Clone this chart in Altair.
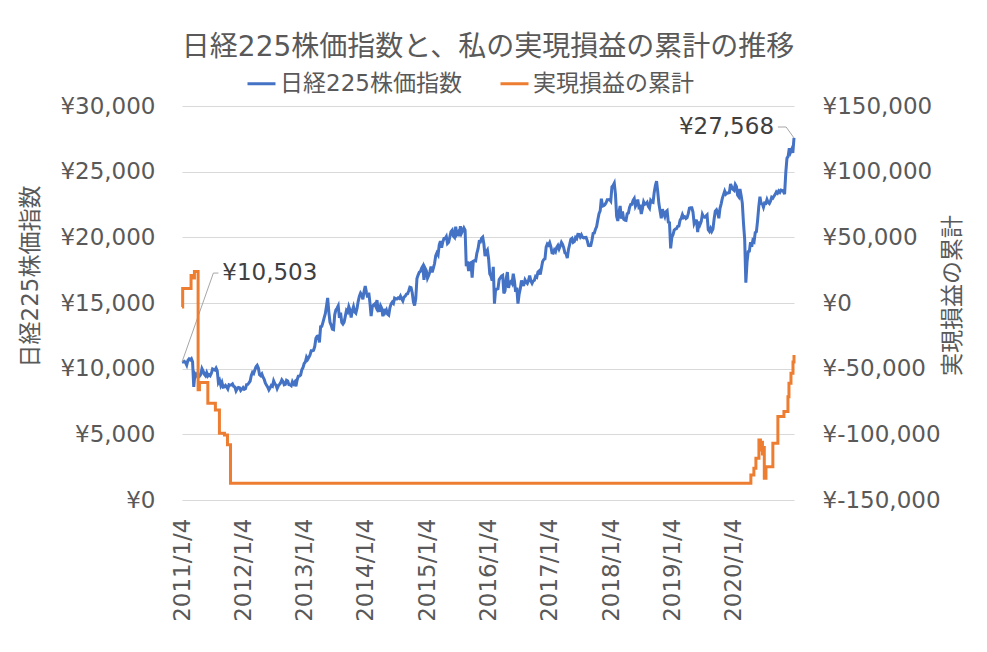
import altair as alt
import pandas as pd

S1 = "日経225株価指数"
S2 = "実現損益の累計"
TITLE = "日経225株価指数と、私の実現損益の累計の推移"

# Weekly readings of the Nikkei 225 (yen), per year
nikkei_2011 = [10503, 10510, 10560, 10460, 10274, 10635, 10746, 10665, 10754, 10525, 8605, 9608, 9459,
               9616, 9555, 9441, 9558, 10004, 9818, 9567, 9460, 9694, 9442, 9547, 9459, 9648,
               9973, 9925, 9889, 10047, 9844, 8944, 9107, 8733, 8954, 8589, 8616, 8722, 8610,
               8456, 8773, 8742, 8762, 8835, 8655, 8603, 8314, 8477, 8575, 8552, 8336, 8440]
nikkei_2012 = [8560, 8422, 8466, 8785, 8803, 8917, 9052, 9485, 9723, 9637, 9899, 10141, 10255,
               10050, 9538, 9464, 9590, 9350, 9181, 8900, 8729, 8594, 8383, 8536, 8721, 8663,
               9066, 8857, 8755, 8489, 8695, 8803, 8929, 9156, 9033, 8776, 8807, 9123, 9069,
               8786, 8769, 8701, 9010, 8841, 8975, 8661, 9142, 9423, 9432, 9525, 9923, 10080]
nikkei_2013 = [10395, 10508, 10880, 10710, 10866, 11046, 11369, 11372, 11399, 11683, 12314, 12468, 12493,
               12003, 13193, 13221, 13529, 13860, 14180, 14758, 15381, 14311, 13534, 13318, 13008, 12970,
               14099, 14473, 14600, 14778, 13870, 14258, 13519, 13396, 13542, 13978, 14424, 14311, 14734,
               14484, 13895, 14405, 14713, 14325, 14225, 14589, 15127, 15515, 15749, 15611, 15279, 15889, 16291]
nikkei_2014 = [15814, 15422, 15796, 15006, 14008, 14718, 14843, 14924, 14721, 15224, 14411, 14423,
               14791, 14607, 13996, 14546, 14288, 14458, 14149, 14075, 14636, 14935, 15069, 14975, 15376,
               15326, 15314, 15395, 15343, 15529, 15320, 15159, 15449, 15521, 15668, 15705, 15911, 16205, 16173,
               15783, 15073, 14804, 15329, 16862, 17124, 17344, 17407, 17663, 17813, 16755, 17635, 17450]
nikkei_2015 = [16883, 17087, 17366, 17768, 17335, 17652, 18004, 18603, 18815, 18665, 19437, 19714, 19206,
               19640, 19908, 19909, 20058, 19531, 19625, 20026, 20437, 20543, 20096, 19990, 20809, 20236,
               20376, 20090, 20841, 20328, 20520, 20720, 20554, 17806, 18165, 17427, 18026, 18070, 16930,
               18186, 18234, 18207, 18777, 19116, 19671, 19650, 19925, 20012, 19492, 18565, 18887, 19034]
nikkei_2016 = [18374, 17219, 17048, 16709, 17750, 14952, 16054, 16052, 16085, 16784, 16922, 17048, 17104,
               15733, 15928, 16874, 17353, 16147, 16565, 16652, 16499, 17235, 16676, 15859, 16170, 14952,
               15669, 16095, 16724, 16383, 16391, 16764, 16596, 16497, 16725, 17081, 16672, 16492, 16683,
               16735, 17024, 16963, 17365, 17442, 17171, 17668, 18162, 18307, 18360, 19250, 19494, 19403]
nikkei_2017 = [19594, 19301, 18813, 18787, 19041, 18910, 19238, 19381, 19119, 19344, 19609, 19455, 19202,
               18810, 18747, 18418, 19079, 19445, 19843, 19919, 19613, 19677, 19980, 19898, 20230, 20225,
               20032, 20195, 19999, 19955, 19985, 19996, 19753, 19383, 19362, 19385, 19776, 20299, 20330,
               20614, 20823, 21336, 21805, 22011, 22937, 22380, 22416, 22486, 22622, 22866, 22868, 22892]
nikkei_2018 = [22765, 23850, 23951, 24124, 23291, 21610, 21245, 21925, 22389, 21418, 21968, 21380, 21318,
               21292, 21794, 21847, 22278, 22508, 22509, 22818, 22960, 22358, 22539, 22878, 22278, 22342,
               21785, 22196, 22697, 22510, 22553, 22662, 22356, 22219, 22813, 22696, 22664, 23420, 23940,
               24270, 23469, 22549, 22010, 21457, 22147, 21810, 21583, 21952, 22036, 21148, 21115, 19155]
nikkei_2019 = [20015, 20204, 20555, 20622, 20664, 20844, 20864, 21302, 21449, 21726, 21504, 21566, 21428,
               21505, 21802, 22221, 22259, 22258, 21923, 21067, 21272, 21260, 20408, 21204, 20972, 21193,
               21754, 21565, 21535, 21620, 21709, 20585, 20455, 20677, 20456, 20625, 21392, 22001, 22098,
               21885, 21456, 22207, 22548, 22974, 23251, 23520, 23292, 23373, 23379, 23410, 24066, 23830, 23656]
nikkei_2020 = [23575, 24025, 23864, 23216, 23084, 23685, 23194, 22606, 21082, 19867, 16552, 18092, 18917,
               18950, 19638, 19280, 19771, 19674, 20366, 20433, 21271, 22325, 23091, 22582, 22549, 22288,
               22614, 22587, 22884, 22657, 22573, 22750, 23051, 22985, 23139, 23274, 23455, 23360, 23539,
               23433, 23601, 23567, 23485, 23295, 24905, 26015, 26165, 26787, 26467, 26687, 26436, 27568]

# Cumulative realised profit/loss (yen), change points
pnl_dates = ["2011-01-04", "2011-01-08", "2011-02-27", "2011-03-11", "2011-03-19", "2011-04-10",
             "2011-04-18", "2011-06-07", "2011-07-22", "2011-08-15", "2011-09-14", "2011-10-02",
             "2011-10-20", "2020-04-16", "2020-05-04", "2020-05-16", "2020-06-03", "2020-06-12",
             "2020-06-18", "2020-06-24", "2020-06-30", "2020-07-05", "2020-07-15", "2020-08-25",
             "2020-09-24", "2020-10-30", "2020-11-23", "2020-11-29", "2020-12-11", "2020-12-23",
             "2020-12-29"]
pnl_values = [-3000, 11000, 21000, 19000, 24000, -66000,
              -60600, -76400, -81400, -99200, -100500, -108000,
              -137200, -130900, -125800, -118200, -104300, -112000,
              -106000, -115000, -110000, -133400, -124600, -106800,
              -86500, -82700, -71300, -61100, -53500, -45000,
              -39600]

FONT = "DejaVu Sans, Noto Sans CJK JP, sans-serif"
GRAY = "#595959"
BLUE = "#4472C4"
ORANGE = "#ED7D31"

nk_values = (nikkei_2011 + nikkei_2012 + nikkei_2013 + nikkei_2014 + nikkei_2015 +
             nikkei_2016 + nikkei_2017 + nikkei_2018 + nikkei_2019 + nikkei_2020)
nk_dates = pd.date_range("2011-01-04", "2020-12-29", periods=len(nk_values))
nk = pd.DataFrame({"date": nk_dates, "value": nk_values, "series": S1})
pl = pd.DataFrame({"date": pd.to_datetime(pnl_dates), "value": pnl_values, "series": S2})

first_lbl = pd.DataFrame({"date": [pd.Timestamp("2011-09-01")], "value": [17280],
                          "label": [f"¥{nk_values[0]:,}"]})
last_lbl = pd.DataFrame({"date": [pd.Timestamp("2020-09-01")], "value": [28400],
                         "label": [f"¥{nk_values[-1]:,}"]})
leaders = pd.DataFrame({
    "date": pd.to_datetime([nk_dates[0], "2011-07-10", "2011-08-09",
                            "2020-09-24", "2020-11-12", nk_dates[-1]]),
    "value": [nk_values[0], 17280, 17280, 28400, 28400, nk_values[-1]],
    "grp": ["a", "a", "a", "b", "b", "b"],
})

color = alt.Color(
    "series:N",
    scale=alt.Scale(domain=[S1, S2], range=[BLUE, ORANGE]),
    legend=alt.Legend(title=None, orient="none", legendX=64, legendY=-38,
                      direction="horizontal", symbolType="stroke", symbolSize=784,
                      symbolStrokeWidth=3, labelFontSize=23, labelFont=FONT,
                      labelColor=GRAY, columnPadding=32, labelOffset=3, labelLimit=0),
)

x_axis = alt.Axis(title=None,
                  values=[alt.DateTime(year=y, month=1, date=4) for y in range(2011, 2021)],
                  format="%Y/%-m/%-d", labelAngle=-90, ticks=False, domain=False,
                  grid=False, labelPadding=18, labelFontSize=23, labelFlush=False,
                  labelOverlap=False)
x_scale = alt.Scale(domain=[alt.DateTime(year=2011, month=1, date=4),
                            alt.DateTime(year=2020, month=12, date=29)])
x_enc = alt.X("date:T", scale=x_scale, axis=x_axis)

left_axis = alt.Axis(title=S1, values=list(range(0, 30001, 5000)),
                     labelExpr="'¥' + format(datum.value, ',')",
                     grid=True, gridColor="#D9D9D9", ticks=False, domain=False,
                     labelPadding=27, labelFontSize=23, titleFontSize=23,
                     titleAngle=-90, titleX=-152, titleY=170, titleAlign="center",
                     titleBaseline="middle")
left_scale = alt.Scale(domain=[0, 30000], nice=False)
y_left = alt.Y("value:Q", scale=left_scale, axis=left_axis)

y_right = alt.Y(
    "value:Q",
    scale=alt.Scale(domain=[-150000, 150000], nice=False),
    axis=alt.Axis(title=S2, orient="right", values=list(range(-150000, 150001, 50000)),
                  labelExpr="'¥' + replace(format(datum.value, ','), '\u2212', '-')",
                  grid=False, ticks=False, domain=False, labelPadding=28,
                  labelFontSize=23, titleFontSize=23, titleAngle=-90, titleX=158,
                  titleY=189, titleAlign="center", titleBaseline="middle"),
)

nk_line = alt.Chart(nk).mark_line(strokeWidth=3).encode(x=x_enc, y=y_left, color=color)
leader_lines = alt.Chart(leaders).mark_line(color="#A6A6A6", strokeWidth=1).encode(
    x=x_enc, y=y_left, detail="grp:N")
txt1 = alt.Chart(first_lbl).mark_text(align="left", baseline="middle", fontSize=23,
                                      font=FONT, color="#404040").encode(
    x=x_enc, y=y_left, text="label:N")
txt2 = alt.Chart(last_lbl).mark_text(align="right", baseline="middle", fontSize=23,
                                     font=FONT, color="#404040").encode(
    x=x_enc, y=y_left, text="label:N")

left = alt.layer(nk_line, leader_lines, txt1, txt2)

pl_line = alt.Chart(pl).mark_line(strokeWidth=3, interpolate="step-after").encode(
    x=x_enc, y=y_right, color=color)

chart = alt.layer(left, pl_line).resolve_scale(y="independent").properties(
    width=612, height=394,
    padding={"left": 174, "top": 98, "right": 185, "bottom": 144},
    autosize=alt.AutoSizeParams(type="none"),
    title=alt.TitleParams(TITLE, fontSize=28, font=FONT, color=GRAY, fontWeight="normal",
                          anchor="middle", offset=6),
).configure_axis(
    labelFont=FONT, titleFont=FONT, labelColor=GRAY, titleColor=GRAY,
    titleFontWeight="normal",
).configure_view(strokeWidth=0)

chart.save("out.html", embed_options={"renderer": "svg", "actions": False})
